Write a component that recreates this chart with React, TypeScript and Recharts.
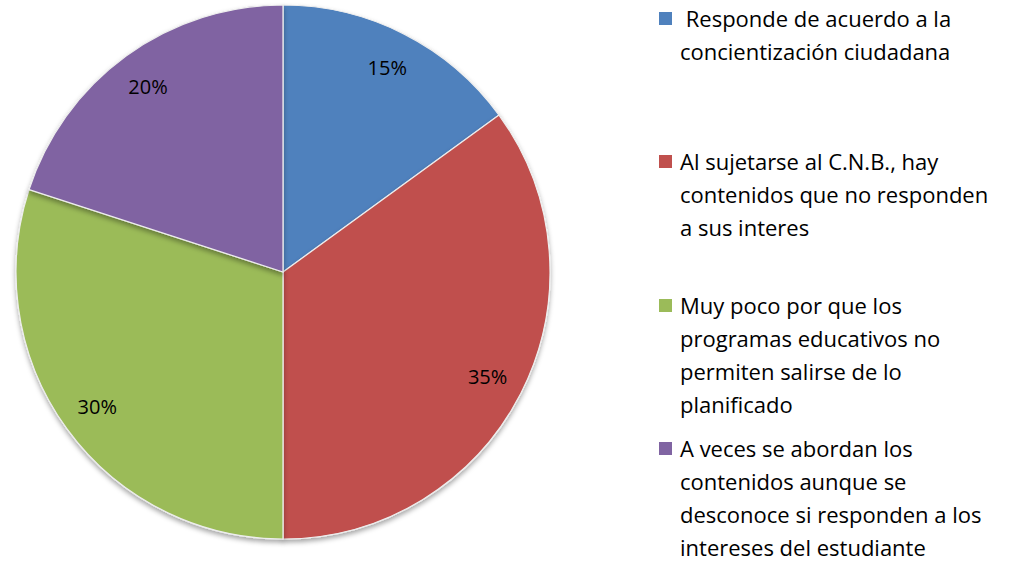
import React from "react";
import { Cell, Pie, PieChart } from "recharts";

const CATEGORIES = [
  " Responde de acuerdo a la\nconcientización ciudadana",
  "Al sujetarse al C.N.B., hay\ncontenidos que no responden\na sus interes",
  "Muy poco por que los\nprogramas educativos no\npermiten salirse de lo\nplanificado",
  "A veces se abordan los\ncontenidos aunque se\ndesconoce si responden a los\nintereses del estudiante",
];
const VALUES = [15, 35, 30, 20];
const COLORS = ["#4F81BD", "#C0504D", "#9BBB59", "#8064A2"];

// top of each legend entry (px), Excel spaced them unevenly
const LEGEND_TOPS = [2, 145, 289, 432];

const FONT = "'Open Sans', Lato, sans-serif";
const RAD = Math.PI / 180;

const data = CATEGORIES.map((name, i) => ({ name, value: VALUES[i] }));

function renderLabel(props: any) {
  const { cx, cy, midAngle, outerRadius, value } = props;
  const r = outerRadius * 0.86;
  const x = cx + r * Math.cos(-midAngle * RAD);
  const y = cy + r * Math.sin(-midAngle * RAD);
  return (
    <text
      x={x}
      y={y}
      fill="#000"
      textAnchor="middle"
      dominantBaseline="central"
      fontFamily={FONT}
      fontSize={20}
    >
      {value}%
    </text>
  );
}

export default function App() {
  return (
    <div
      style={{
        position: "absolute",
        left: 0,
        top: 0,
        width: 1015,
        height: 563,
        background: "#fff",
        overflow: "hidden",
      }}
    >
      <PieChart
        width={1015}
        height={563}
        margin={{ top: 0, right: 0, bottom: 0, left: 0 }}
        style={{ position: "absolute", left: 0, top: 0 }}
      >
        <defs>
          <filter id="pieShadow" x="-10%" y="-10%" width="120%" height="125%">
            <feDropShadow dx="0" dy="3" stdDeviation="2.5" floodColor="#000" floodOpacity="0.35" />
          </filter>
        </defs>
        <Pie
          data={data}
          dataKey="value"
          nameKey="name"
          cx={283}
          cy={272}
          outerRadius={267}
          startAngle={90}
          endAngle={-270}
          stroke="#eeeeee"
          strokeWidth={1.2}
          label={renderLabel}
          labelLine={false}
          isAnimationActive={false}
          style={{ filter: "url(#pieShadow)" }}
        >
          {data.map((d, i) => (
            <Cell key={d.name} fill={COLORS[i]} />
          ))}
        </Pie>
      </PieChart>
      {data.map((d, i) => (
        <div
          key={d.name}
          style={{ position: "absolute", left: 659, top: LEGEND_TOPS[i], display: "flex" }}
        >
          <span
            style={{
              width: 13,
              height: 13,
              marginTop: 10,
              marginRight: 8,
              background: COLORS[i],
              flex: "none",
            }}
          />
          <span
            style={{
              fontFamily: FONT,
              fontSize: 22,
              lineHeight: "33px",
              color: "#000",
              whiteSpace: "pre",
            }}
          >
            {d.name}
          </span>
        </div>
      ))}
    </div>
  );
}
